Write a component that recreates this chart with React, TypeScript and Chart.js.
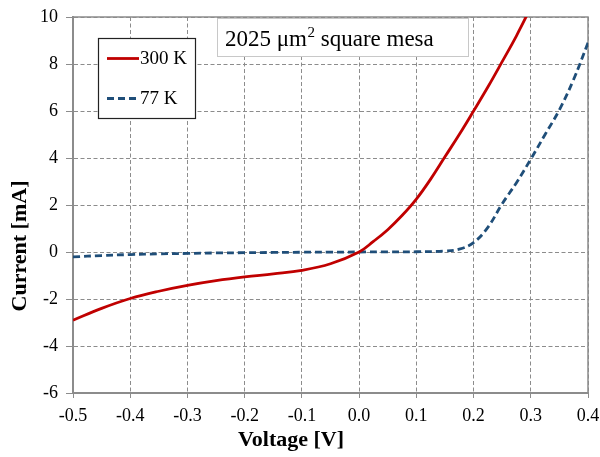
import React, { useEffect, useRef } from "react";
import { Chart, registerables } from "chart.js";
Chart.register(...registerables);

const voltage300 = [-0.5, -0.45, -0.4, -0.35, -0.3, -0.25, -0.2, -0.15, -0.1, -0.05, 0, 0.025, 0.05, 0.075, 0.1, 0.125, 0.15, 0.175, 0.2, 0.225, 0.25, 0.275, 0.3];
const current300 = [-2.9, -2.4, -1.98, -1.67, -1.42, -1.22, -1.06, -0.93, -0.78, -0.5, 0, 0.45, 0.95, 1.55, 2.25, 3.1, 4.05, 5.0, 6.0, 7.02, 8.1, 9.2, 10.4];
const voltage77 = [-0.5, -0.45, -0.4, -0.35, -0.3, -0.25, -0.2, -0.15, -0.1, -0.05, 0, 0.05, 0.1, 0.15, 0.175, 0.2, 0.225, 0.25, 0.275, 0.3, 0.325, 0.35, 0.375, 0.4];
const current77 = [-0.21, -0.15, -0.11, -0.08, -0.06, -0.04, -0.03, -0.02, -0.01, -0.005, 0, 0.005, 0.01, 0.04, 0.12, 0.4, 1.05, 2.05, 2.95, 3.95, 5.0, 6.05, 7.35, 8.9];

const seriesLabels = ["300 K", "77 K"];
const xTitle = "Voltage [V]";
const yTitle = "Current [mA]";
const boxTitleMain = "2025 \u03bcm";
const boxTitleSup = "2";
const boxTitleRest = " square mesa";

const SERIF = "'Liberation Serif', 'DejaVu Serif', serif";
const GRID = "#8c8c8c";

const decorPlugin = {
  id: "decor",
  beforeDatasetsDraw(chart: any) {
    const { ctx, chartArea: a } = chart;
    ctx.save();
    ctx.strokeStyle = GRID;
    ctx.lineWidth = 1.5;
    ctx.setLineDash([]);
    ctx.beginPath();
    ctx.moveTo(a.left, a.top);
    ctx.lineTo(a.right, a.top);
    ctx.lineTo(a.right, a.bottom);
    ctx.stroke();
    ctx.restore();
  },
  afterDatasetsDraw(chart: any) {
    const { ctx } = chart;
    ctx.save();
    // title box
    ctx.fillStyle = "#ffffff";
    ctx.fillRect(217.5, 18.5, 251, 38);
    ctx.strokeStyle = "#c8c8c8";
    ctx.lineWidth = 1;
    ctx.strokeRect(217.5, 18.5, 251, 38);
    ctx.fillStyle = "#000";
    ctx.textBaseline = "alphabetic";
    ctx.textAlign = "left";
    ctx.font = `23px ${SERIF}`;
    let x = 225;
    ctx.fillText(boxTitleMain, x, 46);
    x += ctx.measureText(boxTitleMain).width;
    ctx.font = `15px ${SERIF}`;
    ctx.fillText(boxTitleSup, x + 0.5, 37);
    x += ctx.measureText(boxTitleSup).width + 0.5;
    ctx.font = `23px ${SERIF}`;
    ctx.fillText(boxTitleRest, x, 46);

    // legend box
    ctx.fillStyle = "#ffffff";
    ctx.fillRect(98.5, 38.5, 97, 80);
    ctx.strokeStyle = "#222";
    ctx.lineWidth = 1.2;
    ctx.strokeRect(98.5, 38.5, 97, 80);
    const ds = chart.data.datasets;
    const rows = [58.5, 98.5];
    ds.forEach((d: any, i: number) => {
      ctx.strokeStyle = d.borderColor;
      ctx.lineWidth = d.borderWidth;
      ctx.setLineDash(d.borderDash || []);
      ctx.beginPath();
      ctx.moveTo(107, rows[i]);
      ctx.lineTo(i === 0 ? 139 : 137, rows[i]);
      ctx.stroke();
      ctx.setLineDash([]);
      ctx.fillStyle = "#000";
      ctx.font = `19px ${SERIF}`;
      ctx.textBaseline = "middle";
      ctx.fillText(d.label, 140, rows[i] + 1);
    });
    ctx.restore();
  },
  afterDraw(chart: any) {
    const { ctx } = chart;
    ctx.save();
    ctx.fillStyle = "#000";
    ctx.font = `bold 22px ${SERIF}`;
    ctx.textAlign = "center";
    ctx.textBaseline = "middle";
    ctx.fillText(xTitle, 291, 440);
    ctx.translate(20, 246);
    ctx.rotate(-Math.PI / 2);
    ctx.fillText(yTitle, 0, 0);
    ctx.restore();
  },
};

export default function App() {
  const ref = useRef<HTMLCanvasElement | null>(null);
  useEffect(() => {
    document.body.style.margin = "0";
    const canvas = ref.current;
    if (!canvas) return;
    const chart = new Chart(canvas, {
      type: "line",
      data: {
        datasets: [
          {
            label: seriesLabels[0],
            data: voltage300.map((v, i) => ({ x: v, y: current300[i] })),
            borderColor: "#c00000",
            borderWidth: 2.8,
            pointRadius: 0,
            tension: 0.4,
            fill: false,
          },
          {
            label: seriesLabels[1],
            data: voltage77.map((v, i) => ({ x: v, y: current77[i] })),
            borderColor: "#1f4e79",
            borderWidth: 2.8,
            borderDash: [7, 4],
            pointRadius: 0,
            tension: 0.4,
            fill: false,
          },
        ],
      },
      options: {
        animation: false,
        responsive: false,
        devicePixelRatio: 1,
        layout: { padding: { top: 17, right: 12, left: 0, bottom: 0 } },
        plugins: { legend: { display: false }, tooltip: { enabled: false }, title: { display: false } },
        scales: {
          x: {
            type: "linear",
            min: -0.5,
            max: 0.4,
            afterFit: (s: any) => { s.height = 64; s.paddingLeft = 0; s.paddingRight = 0; },
            ticks: {
              stepSize: 0.1,
              padding: 7,
              color: "#000",
              font: { family: SERIF, size: 18 },
              callback: (v: any) => {
                const r = Math.round(Number(v) * 10) / 10;
                const t = r.toFixed(1);
                return t === "-0.0" ? "0.0" : t;
              },
            },
            grid: { color: GRID, lineWidth: 1, tickLength: 5, tickColor: GRID, tickBorderDash: [] },
            border: { color: GRID, width: 2, dash: [4, 2.5] },
          },
          y: {
            type: "linear",
            min: -6,
            max: 10,
            afterFit: (s: any) => { s.width = 73; s.paddingTop = 0; s.paddingBottom = 0; },
            ticks: {
              stepSize: 2,
              padding: 8,
              color: "#000",
              font: { family: SERIF, size: 18 },
            },
            grid: { color: GRID, lineWidth: 1, tickLength: 7, tickColor: GRID, tickBorderDash: [] },
            border: { color: GRID, width: 2, dash: [4, 2.5] },
          },
        },
      },
      plugins: [decorPlugin],
    } as any);
    return () => chart.destroy();
  }, []);
  return (
    <div style={{ width: 600, height: 457, background: "#fff" }}>
      <canvas ref={ref} width={600} height={457} style={{ display: "block" }} />
    </div>
  );
}
